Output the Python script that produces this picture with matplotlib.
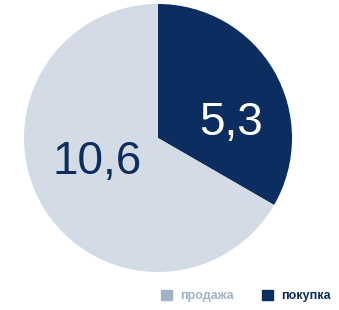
import matplotlib.pyplot as plt
from matplotlib.patches import Patch

names = ['покупка', 'продажа']
values = [5.3, 10.6]
value_labels = ['5,3', '10,6']
colors = ['#0b2d5f', '#d3dce6']
legend_colors = ['#0b2d5f', '#9fb3c8']

plt.rcParams['font.family'] = ['Liberation Sans', 'DejaVu Sans']

fig = plt.figure(figsize=(3.39, 3.10), dpi=100)
ax = fig.add_axes([0, 0, 1, 1])

ax.pie(values, colors=colors, startangle=90, counterclock=False,
       center=(158, 172), radius=134, frame=True,
       wedgeprops=dict(linewidth=0))
ax.set_xlim(0, 339)
ax.set_ylim(0, 310)
ax.set_aspect('equal')
ax.axis('off')

ax.text(231, 187, value_labels[0], color='white', fontsize=33,
        ha='center', va='center')
ax.text(97, 148, value_labels[1], color=colors[0], fontsize=33,
        ha='center', va='center')

# legend: продажа first
handles = [Patch(color=legend_colors[1]), Patch(color=legend_colors[0])]
leg = fig.legend(handles, [names[1], names[0]], ncol=2, frameon=False,
                 loc='center', bbox_to_anchor=(0.725, 0.045),
                 handlelength=0.9, handleheight=0.9, handletextpad=0.6,
                 columnspacing=2.3, prop=dict(size=9, weight='bold'))
for t, c in zip(leg.get_texts(), ['#a3b3c6', legend_colors[0]]):
    t.set_color(c)

fig.savefig('out.png', dpi=100)
